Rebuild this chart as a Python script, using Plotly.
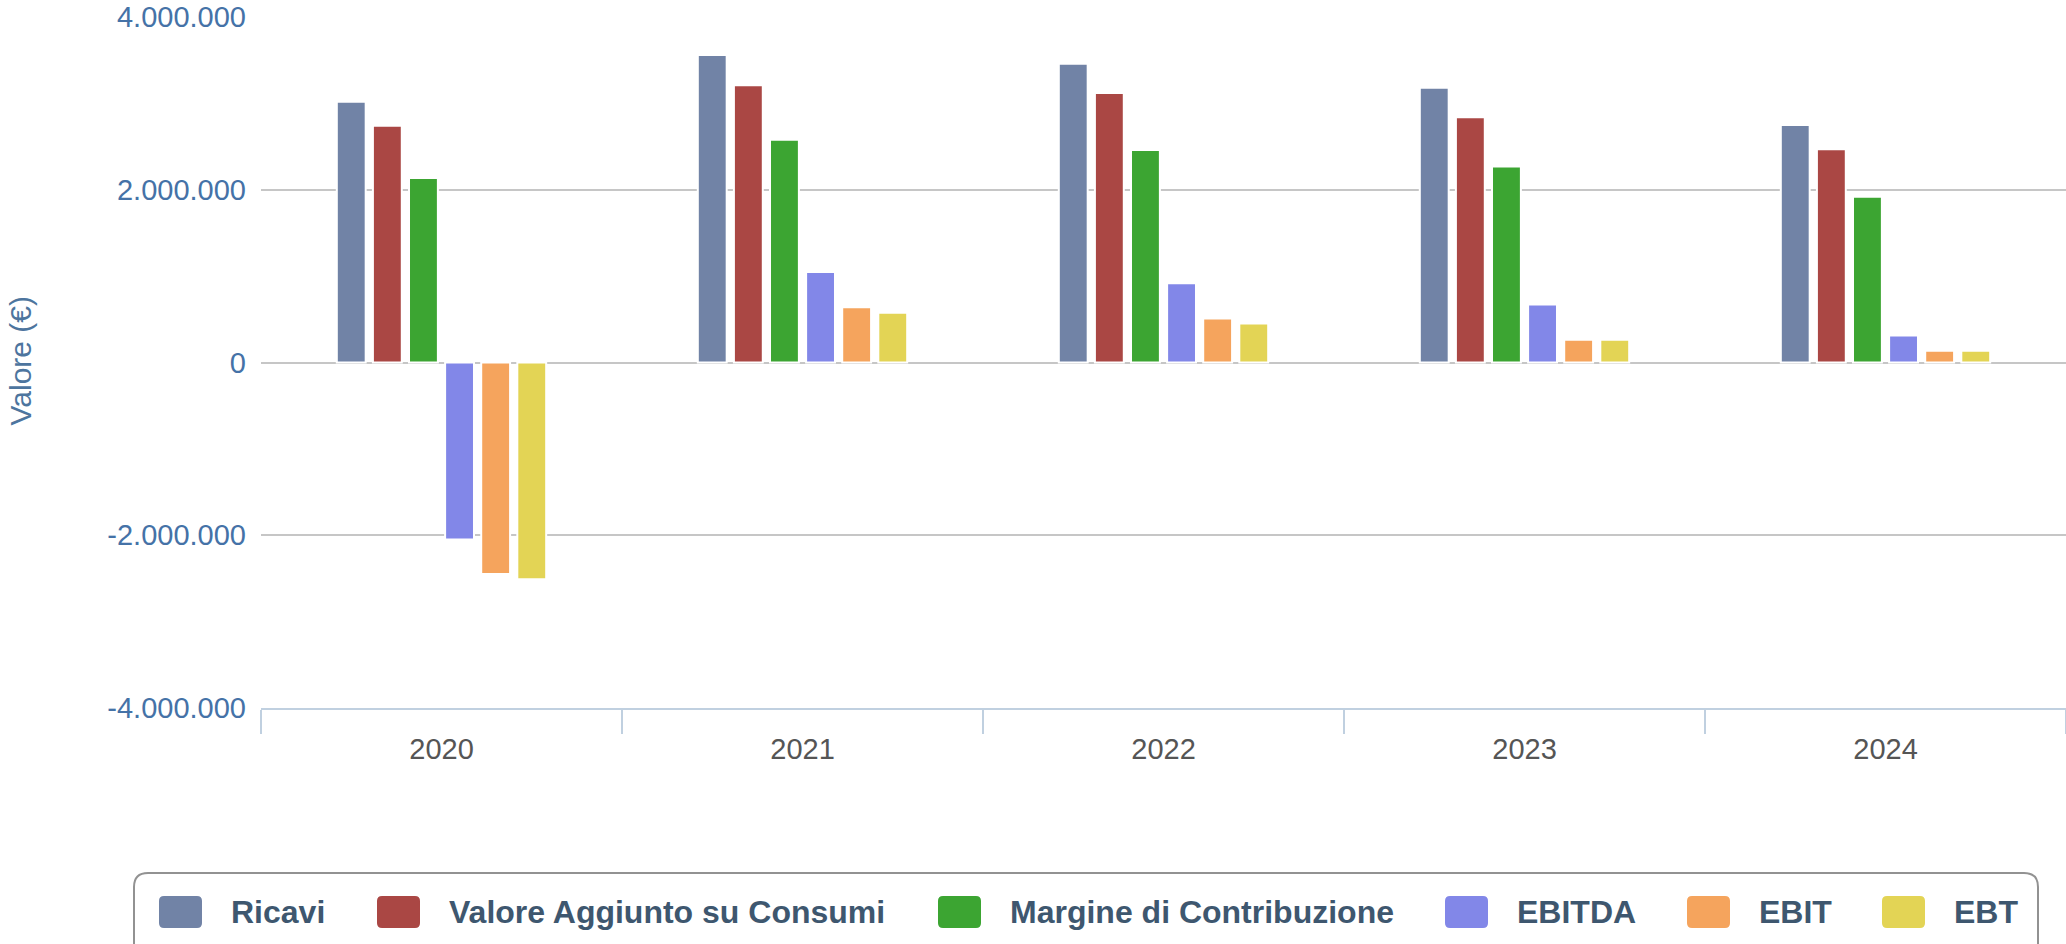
import plotly.graph_objects as go

# data (euro)
YEARS = ["2020", "2021", "2022", "2023", "2024"]
SERIES = [
    "Ricavi",
    "Valore Aggiunto su Consumi",
    "Margine di Contribuzione",
    "EBITDA",
    "EBIT",
    "EBT",
]
RICAVI = [3020000, 3560000, 3460000, 3180000, 2750000]
VALORE_AGGIUNTO = [2740000, 3210000, 3120000, 2840000, 2470000]
MARGINE = [2135000, 2580000, 2460000, 2270000, 1920000]
EBITDA = [-2050000, 1047000, 918000, 671000, 312000]
EBIT = [-2450000, 639000, 510000, 263000, 135000]
EBT = [-2510000, 576000, 451000, 263000, 135000]
Y_TICKS = [-4000000, -2000000, 0, 2000000, 4000000]
Y_TITLE = "Valore (€)"

COLORS = ["#7183A6", "#AA4744", "#3CA532", "#8287E8", "#F5A45D", "#E3D455"]
FONT = "Liberation Sans, Arial, sans-serif"

W, H = 2066, 944
ML, MR, MT, MB = 261, 0, 17, 236


def px_x(px):
    return (px - ML) / (W - ML - MR)


def px_y(py):
    return (H - MB - py) / (H - MT - MB)


def rounded_rect(x0, y0, x1, y1, r):
    """Rounded rectangle path, pixel coords in, paper coords out."""
    pts = [
        ("M", x0 + r, y0), ("L", x1 - r, y0), ("Q", x1, y0, x1, y0 + r),
        ("L", x1, y1 - r), ("Q", x1, y1, x1 - r, y1), ("L", x0 + r, y1),
        ("Q", x0, y1, x0, y1 - r), ("L", x0, y0 + r), ("Q", x0, y0, x0 + r, y0),
    ]
    out = []
    for p in pts:
        cmd, vals = p[0], p[1:]
        coords = []
        for i in range(0, len(vals), 2):
            coords.append(f"{px_x(vals[i]):.5f},{px_y(vals[i + 1]):.5f}")
        out.append(cmd + " ".join(coords))
    return " ".join(out) + " Z"


values = [RICAVI, VALORE_AGGIUNTO, MARGINE, EBITDA, EBIT, EBT]

fig = go.Figure()
for name, vals, color in zip(SERIES, values, COLORS):
    fig.add_trace(go.Bar(
        x=YEARS,
        y=vals,
        name=name,
        marker=dict(color=color, line=dict(color="white", width=2)),
    ))

tick_text = [f"{v:,}".replace(",", ".") for v in Y_TICKS]

fig.update_layout(
    width=W,
    height=H,
    margin=dict(l=ML, r=MR, t=MT, b=MB),
    paper_bgcolor="white",
    plot_bgcolor="white",
    barmode="group",
    bargap=0.4,
    bargroupgap=0.2,
    showlegend=False,
    font=dict(family=FONT),
    xaxis=dict(
        type="category",
        showline=True,
        linecolor="#C0D0E0",
        linewidth=2,
        ticks="outside",
        tickson="boundaries",
        ticklen=24,
        tickwidth=2,
        tickcolor="#C0D0E0",
        showgrid=False,
        ticklabelstandoff=14,
        tickfont=dict(size=29, color="#555555", family=FONT),
    ),
    yaxis=dict(
        range=[-4000000, 4000000],
        tickvals=Y_TICKS,
        ticktext=tick_text,
        showgrid=True,
        gridcolor="#C6C6C6",
        gridwidth=2,
        zeroline=True,
        zerolinecolor="#C6C6C6",
        zerolinewidth=2,
        ticklabelstandoff=14,
        tickfont=dict(size=29, color="#4572A7", family=FONT),
    ),
)

shapes = []
annotations = []

# y axis title, kept whole against the left edge
annotations.append(dict(
    xref="paper", yref="paper",
    x=px_x(1), y=px_y(361),
    xanchor="left", yanchor="middle",
    text=Y_TITLE, textangle=-90, showarrow=False,
    font=dict(size=30, color="#4D759E", family=FONT),
))

# legend box
shapes.append(dict(
    type="path", xref="paper", yref="paper",
    path=rounded_rect(134, 873, 2038, 990, 14),
    line=dict(color="#929292", width=2),
    fillcolor="rgba(0,0,0,0)",
))

legend_x = [159, 377, 938, 1445, 1687, 1882]
for name, color, lx in zip(SERIES, COLORS, legend_x):
    shapes.append(dict(
        type="path", xref="paper", yref="paper",
        path=rounded_rect(lx, 896, lx + 43, 928, 5),
        line=dict(width=0),
        fillcolor=color,
    ))
    annotations.append(dict(
        xref="paper", yref="paper",
        x=px_x(lx + 70), y=px_y(912),
        xanchor="left", yanchor="middle",
        text=f"<b>{name}</b>", showarrow=False,
        font=dict(size=32, color="#3E576F", family=FONT),
    ))

fig.update_layout(shapes=shapes, annotations=annotations)

fig.write_html(
    "out.html",
    config={"displayModeBar": False},
    post_script="document.body.style.margin='0';"
                "document.body.style.overflow='hidden';",
)
